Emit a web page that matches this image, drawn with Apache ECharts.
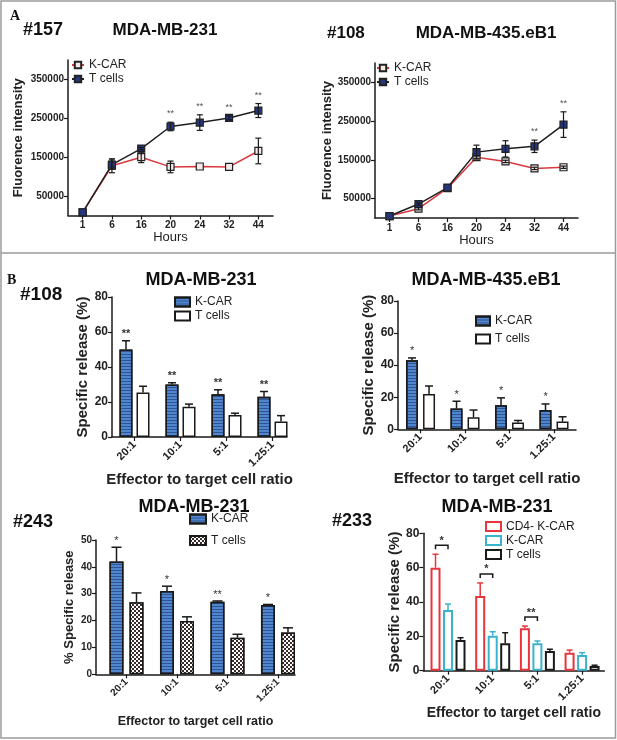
<!DOCTYPE html>
<html><head><meta charset="utf-8">
<script src="https://cdn.jsdelivr.net/npm/echarts@6/dist/echarts.min.js"></script>
<style>html,body{margin:0;padding:0;background:#fff}#c{width:617px;height:740px}</style>
</head><body><div id="c"></div>
<script>
// ---------- DATA ----------
const hours = ['1', '6', '16', '20', '24', '32', '44'];
const hourIdx = [0, 1, 2, 3, 4, 5, 6];
const yTicksA = [50000, 150000, 250000, 350000];

// Panel A, #157 MDA-MB-231
const a1Kcar = [8000, 128000, 150000, 125000, 126000, 125000, 166000];
const a1KcarErr = [0, 18000, 14000, 15000, 0, 0, 33000];
const a1T = [8000, 131000, 172000, 229000, 239000, 251000, 270000];
const a1TErr = [0, 12000, 3000, 11000, 20000, 5000, 18000];
const a1Stars = ['', '', '', '**', '**', '**', '**'];

// Panel A, #108 MDA-MB-435.eB1
const a2Kcar = [5000, 24000, 77000, 157000, 146000, 128000, 131000];
const a2KcarErr = [0, 3000, 0, 3000, 3000, 3000, 3000];
const a2T = [5000, 36000, 78500, 170000, 178500, 185000, 241000];
const a2TErr = [0, 3000, 0, 18000, 21000, 16000, 33000];
const a2Stars = ['', '', '', '', '', '**', '**'];

// Panel B
const ratios = ['20:1', '10:1', '5:1', '1.25:1'];
const ratioIdx = [0, 1, 2, 3];

// #108 MDA-MB-231
const b1Kcar = [50, 30, 24.5, 23];
const b1KcarErr = [5, 1, 2.5, 3];
const b1T = [25.5, 17.3, 12.6, 8.8];
const b1TErr = [3.5, 1.5, 1, 3.4];
const b1Stars = ['**', '**', '**', '**'];

// MDA-MB-435.eB1
const b2Kcar = [43, 13, 15, 12];
const b2KcarErr = [1.5, 4.5, 4.6, 3.8];
const b2T = [22, 7.5, 4.2, 4.8];
const b2TErr = [5, 4.5, 1.3, 3];
const b2Stars = ['*', '*', '*', '*'];

// #243 MDA-MB-231
const b3Kcar = [42, 31, 27, 25.8];
const b3KcarErr = [5.3, 1.8, 0.3, 0.2];
const b3T = [26.8, 19.8, 13.6, 15.6];
const b3TErr = [3.5, 1.6, 1.3, 1.7];
const b3Stars = ['*', '*', '**', '*'];

// #233 MDA-MB-231
const b4Cd4 = [60, 43.5, 24.7, 10.5];
const b4Cd4Err = [7.8, 7.6, 1.3, 1.5];
const b4Kcar = [35.3, 20.4, 16, 9.1];
const b4KcarErr = [3.5, 2.3, 1.3, 1.4];
const b4T = [17.9, 16, 11.5, 2.7];
const b4TErr = [1.3, 6.1, 1, 0.5];
const b4Stars = ['*', '*', '**', ''];

// ---------- STYLE ----------
const FONT = '"Liberation Sans", Arial, sans-serif';
const DARK = '#1a1a1a';
const strip = n => n.split('#')[0];

const axLine = { show: true, onZero: false, lineStyle: { color: DARK, width: 1.5 } };
const axTick = (extra) => Object.assign({ show: true, length: 4, lineStyle: { color: DARK, width: 1.2 } }, extra || {});

const stripeDecal = { symbol: 'rect', symbolSize: 1, color: 'rgba(25,45,95,0.55)', dashArrayX: [1, 0], dashArrayY: [1, 2], rotation: 0 };
const checkDecal = { symbol: 'rect', symbolSize: 1, color: '#ffffff', dashArrayX: [[2, 2], [0, 2, 2, 0]], dashArrayY: [2, 0], rotation: 0 };

function errSeries(xi, xs, vals, errs, stars, offset, o) {
  return {
    type: 'custom', name: 'err', xAxisIndex: xi, yAxisIndex: xi, z: 10, silent: true,
    encode: { x: 0, y: 1 },
    data: vals.map((v, i) => [xs[i], v, errs[i]]),
    renderItem(params, api) {
      const x = api.value(0), v = api.value(1), e = api.value(2);
      const p = api.coord([x, v]);
      const t = api.coord([x, v + e]);
      const b = api.coord([x, v - e]);
      const cx = p[0] + offset;
      const st = { stroke: o.color, lineWidth: o.lw };
      const ch = [];
      if (e > 0) {
        ch.push({ type: 'line', shape: { x1: cx, y1: t[1], x2: cx, y2: o.both ? b[1] : p[1] }, style: st });
        ch.push({ type: 'line', shape: { x1: cx - o.cap, y1: t[1], x2: cx + o.cap, y2: t[1] }, style: st });
        if (o.both) ch.push({ type: 'line', shape: { x1: cx - o.cap, y1: b[1], x2: cx + o.cap, y2: b[1] }, style: st });
      }
      const s = stars ? stars[params.dataIndex] : '';
      if (s) ch.push({ type: 'text', style: { text: s, x: cx, y: t[1] - o.starGap, align: 'center', verticalAlign: 'bottom', font: o.starFont, fill: o.starColor } });
      return { type: 'group', children: ch };
    }
  };
}

function bracketSeries(xi, xs, v1, e1, v2, e2, stars, off1, off2) {
  return {
    type: 'custom', name: 'bracket', xAxisIndex: xi, yAxisIndex: xi, z: 11, silent: true,
    encode: { x: 0, y: 1 },
    data: xs.map((x, i) => [x, v1[i] + e1[i], v2[i] + e2[i]]),
    renderItem(params, api) {
      const s = stars[params.dataIndex];
      if (!s) return { type: 'group', children: [] };
      const x = api.value(0);
      const p1 = api.coord([x, api.value(1)]);
      const p2 = api.coord([x, api.value(2)]);
      const y = Math.min(p1[1], p2[1]) - 9;
      const l = p1[0] + off1, r = p1[0] + off2;
      return { type: 'group', children: [
        { type: 'polyline', shape: { points: [[l, y + 4], [l, y], [r, y], [r, y + 4]] }, style: { stroke: DARK, lineWidth: 1.5, fill: null } },
        { type: 'text', style: { text: s, x: (l + r) / 2, y: y + 1, align: 'center', verticalAlign: 'bottom', font: 'bold 11px ' + FONT, fill: '#333' } }
      ] };
    }
  };
}

// ---------- GRIDS ----------
const grid = [
  { left: 68, top: 60, width: 205, height: 155.5 },
  { left: 375, top: 63, width: 203, height: 155 },
  { left: 112, top: 297, width: 175, height: 140 },
  { left: 398, top: 301, width: 178, height: 128.3 },
  { left: 96, top: 540, width: 199, height: 134.3 },
  { left: 423.3, top: 533.3, width: 181, height: 137.4 }
];

function aX(gi, gap) {
  return {
    type: 'category', gridIndex: gi, data: hours, boundaryGap: true,
    axisLine: axLine, axisTick: axTick({ alignWithLabel: true }),
    axisLabel: { fontSize: 10, fontWeight: 'bold', color: '#222', margin: 5, fontFamily: FONT },
    name: 'Hours', nameLocation: 'middle', nameGap: gap,
    nameTextStyle: { fontSize: 13, color: '#222', fontFamily: FONT }
  };
}
function aY(gi, gap) {
  return {
    type: 'value', gridIndex: gi, min: 0, max: 400000,
    axisLine: axLine, axisTick: axTick({ customValues: yTicksA }),
    axisLabel: { customValues: yTicksA, formatter: v => String(v), fontSize: 10, fontWeight: 'bold', color: '#222', margin: 4, fontFamily: FONT },
    splitLine: { show: false },
    name: 'Fluorence intensity', nameLocation: 'middle', nameGap: gap,
    nameTextStyle: { fontSize: 13, fontWeight: 'bold', color: '#222', fontFamily: FONT }
  };
}
function bX(gi, min, max, fs, gap, nfs) {
  return {
    type: 'value', gridIndex: gi, min: min, max: max,
    axisLine: axLine, axisTick: axTick({ customValues: ratioIdx }),
    axisLabel: { customValues: ratioIdx, formatter: v => ratios[Math.round(v)], rotate: 45, fontSize: fs, fontWeight: 'bold', color: '#222', margin: 6, fontFamily: FONT },
    splitLine: { show: false },
    name: 'Effector to target cell ratio', nameLocation: 'middle', nameGap: gap,
    nameTextStyle: { fontSize: nfs, fontWeight: 'bold', color: '#222', fontFamily: FONT }
  };
}
function bY(gi, max, interval, fs, name, gap, nfs) {
  return {
    type: 'value', gridIndex: gi, min: 0, max: max, interval: interval,
    axisLine: axLine, axisTick: axTick(),
    axisLabel: { fontSize: fs, fontWeight: 'bold', color: '#222', margin: 4, fontFamily: FONT },
    splitLine: { show: false },
    name: name, nameLocation: 'middle', nameGap: gap,
    nameTextStyle: { fontSize: nfs, fontWeight: 'bold', color: '#222', fontFamily: FONT }
  };
}

const xAxis = [
  aX(0, 15), aX(1, 16),
  bX(2, -0.489, 3.315, 11, 34, 15),
  bX(3, -0.506, 3.494, 11, 42, 15),
  bX(4, -0.604, 3.337, 10, 41, 12.5),
  bX(5, -0.553, 3.497, 11, 35, 14)
];
const yAxis = [
  aY(0, 43), aY(1, 41),
  bY(2, 80, 20, 12, 'Specific release (%)', 21, 15),
  bY(3, 80, 20, 12, 'Specific release (%)', 20, 15),
  bY(4, 50, 10, 10, '% Specific release', 20, 13),
  bY(5, 80, 20, 12, 'Specific release (%)', 17, 15)
];

// ---------- SERIES ----------
function lineS(name, gi, data, lineColor, fill) {
  return {
    type: 'line', name: name, xAxisIndex: gi, yAxisIndex: gi, data: data, z: 5,
    symbol: 'rect', symbolSize: 7,
    lineStyle: { color: lineColor, width: 1.5 },
    itemStyle: { color: fill, borderColor: '#222', borderWidth: 1.2 }
  };
}
const kcarBlue = { color: '#4f86d0', borderColor: DARK, borderWidth: 1.5, decal: stripeDecal };
const tWhite = { color: '#ffffff', borderColor: DARK, borderWidth: 1.5 };
const tCheck = { color: '#3a2a2a', borderColor: DARK, borderWidth: 1.5, decal: checkDecal };

function barS(name, gi, vals, bw, gap, style) {
  return {
    type: 'bar', name: name, xAxisIndex: gi, yAxisIndex: gi,
    data: vals.map((v, i) => [ratioIdx[i], v]),
    barWidth: bw, barGap: gap, itemStyle: style
  };
}

const errA = { color: DARK, lw: 1.2, cap: 3, both: true, starGap: 4, starFont: '9px ' + FONT, starColor: '#555' };
const errB = (cap, color, sf) => ({ color: color || DARK, lw: 1.5, cap: cap, both: false, starGap: 1, starFont: (sf || 'bold 11px ') + FONT, starColor: '#333' });

const series = [
  // A1
  lineS('K-CAR#a1', 0, a1Kcar, '#d8393f', '#f4e8e8'),
  lineS('T cells#a1', 0, a1T, '#1f1f1f', '#26367e'),
  errSeries(0, hourIdx, a1Kcar, a1KcarErr, null, 0, errA),
  errSeries(0, hourIdx, a1T, a1TErr, a1Stars, 0, errA),
  // A2
  lineS('K-CAR#a2', 1, a2Kcar, '#d8393f', '#f4e8e8'),
  lineS('T cells#a2', 1, a2T, '#1f1f1f', '#26367e'),
  errSeries(1, hourIdx, a2Kcar, a2KcarErr, null, 0, errA),
  errSeries(1, hourIdx, a2T, a2TErr, a2Stars, 0, errA),
  // B1
  barS('K-CAR#b1', 2, b1Kcar, 13, '31%', kcarBlue),
  barS('T cells#b1', 2, b1T, 13, '31%', tWhite),
  errSeries(2, ratioIdx, b1Kcar, b1KcarErr, b1Stars, -8.5, errB(4)),
  errSeries(2, ratioIdx, b1T, b1TErr, null, 8.5, errB(4)),
  // B2
  barS('K-CAR#b2', 3, b2Kcar, 12, '42%', kcarBlue),
  barS('T cells#b2', 3, b2T, 12, '42%', tWhite),
  errSeries(3, ratioIdx, b2Kcar, b2KcarErr, b2Stars, -8.5, errB(4, null, '11px ')),
  errSeries(3, ratioIdx, b2T, b2TErr, null, 8.5, errB(4)),
  // B3
  barS('K-CAR#b3', 4, b3Kcar, 14, '43%', kcarBlue),
  barS('T cells#b3', 4, b3T, 14, '43%', tCheck),
  errSeries(4, ratioIdx, b3Kcar, b3KcarErr, b3Stars, -10, errB(5, null, '11px ')),
  errSeries(4, ratioIdx, b3T, b3TErr, null, 10, errB(5)),
  // B4
  barS('CD4- K-CAR#b4', 5, b4Cd4, 10, '25%', { color: '#fff', borderColor: '#e8353c', borderWidth: 2 }),
  barS('K-CAR#b4', 5, b4Kcar, 10, '25%', { color: '#fff', borderColor: '#3bb3cc', borderWidth: 2 }),
  barS('T cells#b4', 5, b4T, 10, '25%', { color: '#fff', borderColor: DARK, borderWidth: 2 }),
  errSeries(5, ratioIdx, b4Cd4, b4Cd4Err, null, -12.5, errB(3, '#e8353c')),
  errSeries(5, ratioIdx, b4Kcar, b4KcarErr, null, 0, errB(3, '#3bb3cc')),
  errSeries(5, ratioIdx, b4T, b4TErr, null, 12.5, errB(3)),
  bracketSeries(5, ratioIdx, b4Cd4, b4Cd4Err, b4Kcar, b4KcarErr, b4Stars, -12.5, 0)
];

// ---------- LEGENDS ----------
function leg(names, left, top, gap, fs, iw, ih) {
  return {
    data: names, left: left, top: top, orient: 'vertical', itemGap: gap,
    itemWidth: iw, itemHeight: ih, selectedMode: false, padding: 0, formatter: strip,
    textStyle: { fontSize: fs, color: '#222', fontFamily: FONT }
  };
}
const legend = [
  leg(['K-CAR#a1', 'T cells#a1'], 71, 59, 2, 12, 12, 8),
  leg(['K-CAR#a2', 'T cells#a2'], 376, 62, 2, 12, 12, 8),
  Object.assign(leg(['K-CAR#b1', 'T cells#b1'], 174, 296, 2, 12, 15, 9), { icon: 'rect' }),
  Object.assign(leg(['K-CAR#b2', 'T cells#b2'], 475, 315, 6, 12, 14, 9), { icon: 'rect' }),
  Object.assign(leg(['K-CAR#b3', 'T cells#b3'], 189, 513, 9.5, 12, 16, 9), { icon: 'rect' }),
  Object.assign(leg(['CD4- K-CAR#b4', 'K-CAR#b4', 'T cells#b4'], 485, 520.5, 2, 12, 15, 9), { icon: 'rect' })
];

// ---------- TEXT / FRAME ----------
function txt(text, x, y, font, align) {
  return { type: 'text', x: x, y: y, style: { text: text, font: font, fill: '#111', align: align || 'center', verticalAlign: 'middle' } };
}
const titleFont = 'bold 18px ' + FONT;
const graphic = [
  { type: 'rect', shape: { x: 1, y: 1, width: 614.5, height: 737 }, style: { fill: 'none', stroke: '#9a9a9a', lineWidth: 1.5 } },
  { type: 'line', shape: { x1: 1, y1: 253, x2: 615.5, y2: 253 }, style: { stroke: '#9a9a9a', lineWidth: 1.5 } },
  txt('A', 10, 16, 'bold 14px "Liberation Serif", serif', 'left'),
  txt('B', 7, 280, 'bold 14px "Liberation Serif", serif', 'left'),
  txt('#157', 23, 30, 'bold 18px ' + FONT, 'left'),
  txt('MDA-MB-231', 165, 30, 'bold 17px ' + FONT),
  txt('#108', 327, 33, 'bold 17px ' + FONT, 'left'),
  txt('MDA-MB-435.eB1', 486, 33, 'bold 17px ' + FONT),
  txt('#108', 20, 295, 'bold 19px ' + FONT, 'left'),
  txt('MDA-MB-231', 201, 280, titleFont),
  txt('MDA-MB-435.eB1', 486, 280, titleFont),
  txt('#243', 13, 522, titleFont, 'left'),
  txt('MDA-MB-231', 194, 507, titleFont),
  txt('#233', 332, 521, titleFont, 'left'),
  txt('MDA-MB-231', 497, 507, titleFont)
];

const chart = echarts.init(document.getElementById('c'), null, { renderer: 'canvas' });
chart.setOption({
  animation: false,
  backgroundColor: '#fff',
  textStyle: { fontFamily: FONT },
  grid: grid, xAxis: xAxis, yAxis: yAxis, series: series, legend: legend, graphic: graphic
});
</script>
</body></html>
